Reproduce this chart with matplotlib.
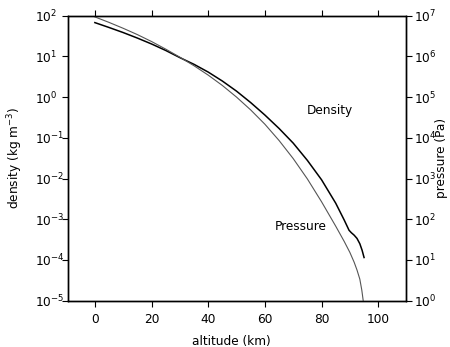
import numpy as np
import matplotlib
matplotlib.use("Agg")
import matplotlib.pyplot as plt

# density profile (altitude km, kg m^-3)
alt_rho = [0, 5, 10, 15, 20, 25, 30, 35, 40, 45, 50, 55, 60, 65, 70, 75, 80, 85,
           88, 89.7, 90.5, 91.5, 92.5, 93.5, 94.3, 95]
density = [67.6, 51.3, 38.5, 28.2, 20.2, 14.0, 9.33, 6.38, 4.12, 2.48, 1.40, 0.733,
           0.363, 0.170, 0.0741, 0.0279, 0.00933, 0.00248,
           9.55e-4, 5.37e-4, 4.68e-4, 4.07e-4, 3.39e-4, 2.51e-4, 1.74e-4, 1.15e-4]

# pressure profile (altitude km, Pa)
alt_p = [0, 5, 10, 15, 20, 25, 30, 35, 40, 45, 50, 55, 60, 65, 70, 75, 80, 85,
         88, 90, 91.5, 92.5, 93.5, 94.2, 94.7]
pressure = [9.33e6, 6.84e6, 4.90e6, 3.43e6, 2.32e6, 1.51e6, 9.55e5, 5.89e5, 3.47e5,
            1.93e5, 1.0e5, 4.84e4, 2.16e4, 8610, 3090, 977, 269, 67.6,
            28.5, 15.3, 8.81, 5.69, 3.39, 1.82, 1.0]

plt.rcParams['font.family'] = ['DejaVu Sans']
fs = 8.7

fig = plt.figure(figsize=(4.5, 3.47), dpi=100)
ax = fig.add_axes([0.151, 0.1334, 0.7506, 0.8214])
ax2 = ax.twinx()

ax.plot(alt_rho, density, color='black', lw=1.1)
ax2.plot(alt_p, pressure, color='#555555', lw=0.8)

ax.set_yscale('log')
ax2.set_yscale('log')
ax.set_xlim(-9.5, 109.7)
ax.set_ylim(1e-5, 1e2)
ax2.set_ylim(1, 1e7)
ax.set_xticks([0, 20, 40, 60, 80, 100])
ax.set_yticks([10.0 ** k for k in range(-5, 3)])
ax2.set_yticks([10.0 ** k for k in range(0, 8)])
ax.minorticks_off()
ax2.minorticks_off()

ax.tick_params(axis='x', direction='out', length=4, width=0.8, labelsize=fs, top=True, pad=5)
ax.tick_params(axis='y', direction='out', length=4, width=0.8, labelsize=fs, pad=19.5)
for lab in ax.get_yticklabels():
    lab.set_horizontalalignment('left')
ax2.tick_params(axis='y', direction='out', length=4, width=0.8, labelsize=fs, pad=2)

ax.set_xlabel('altitude (km)', fontsize=fs)
ax.xaxis.set_label_coords(0.483, -0.122)
ax.set_ylabel('density (kg m$^{-3}$)', fontsize=fs)
ax.yaxis.set_label_coords(-0.127, 0.5)
ax2.set_ylabel('pressure (Pa)', fontsize=fs)
ax2.yaxis.set_label_coords(1.086, 0.5)

ax.text(74.8, 0.46, 'Density', fontsize=fs, ha='left', va='center')
ax.text(63.5, 6.8e-4, 'Pressure', fontsize=fs, ha='left', va='center')

for a in (ax, ax2):
    for s in a.spines.values():
        s.set_linewidth(1.0)

fig.savefig('out.png', dpi=100)
